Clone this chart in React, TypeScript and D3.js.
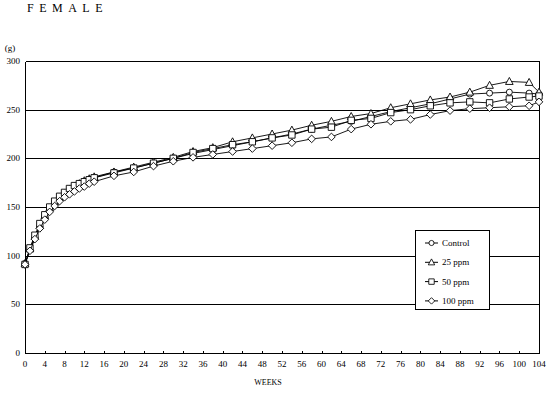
import React from 'react';
import * as d3 from 'd3';

// body weight of female rats, in grams, by week
const weeks = [0, 1, 2, 3, 4, 5, 6, 7, 8, 9, 10, 11, 12, 13, 14, 18, 22, 26, 30, 34, 38, 42, 46, 50, 54, 58, 62, 66, 70, 74, 78, 82, 86, 90, 94, 98, 102, 104];

const control = [92, 106, 119, 130, 140, 148, 154, 159, 163, 167, 170, 173, 176, 178, 180, 186, 190, 195, 200, 205, 209, 213, 217, 221, 225, 230, 234, 238, 243, 248, 252, 256, 261, 266, 267, 268, 267, 266];
const ppm25 = [92, 107, 120, 131, 141, 149, 155, 160, 164, 168, 171, 174, 177, 179, 181, 186, 191, 196, 201, 207, 211, 217, 221, 225, 229, 234, 238, 243, 246, 252, 256, 260, 263, 268, 275, 279, 278, 268];
const ppm50 = [91, 108, 121, 133, 142, 150, 156, 161, 165, 169, 172, 174, 176, 178, 180, 185, 190, 195, 200, 206, 210, 214, 217, 221, 224, 230, 232, 239, 241, 247, 250, 254, 257, 258, 257, 261, 263, 264];
const ppm100 = [91, 105, 117, 128, 137, 145, 151, 156, 160, 163, 166, 169, 171, 174, 176, 182, 186, 192, 197, 201, 204, 207, 210, 213, 216, 220, 222, 230, 235, 238, 240, 245, 249, 251, 252, 253, 254, 258];

const seriesNames = ['Control', '25 ppm', '50 ppm', '100 ppm'];
const seriesValues = [control, ppm25, ppm50, ppm100];
const seriesMarkers = ['circle', 'triangle', 'square', 'diamond'];

const xTicks = d3.range(0, 105, 4);
const yTicks = [0, 50, 100, 150, 200, 250, 300];

const W = 549;
const H = 394;
const margin = { left: 25, right: 10, top: 61, bottom: 41 };
const FONT = '"Liberation Serif", serif';

const markerPath = (kind: string) => {
  if (kind === 'circle') return 'M3,0A3,3 0 1,1 -3,0A3,3 0 1,1 3,0Z';
  if (kind === 'triangle') return 'M0,-4L3.8,3L-3.8,3Z';
  if (kind === 'square') return 'M-3.2,-3.2H3.2V3.2H-3.2Z';
  return 'M0,-3.8L3.8,0L0,3.8L-3.8,0Z';
};

// snap horizontal/vertical rules to the pixel grid
const crisp = (v: number) => Math.round(v) + 0.5;

export default function App() {
  const x = d3.scaleLinear().domain([0, 104]).range([margin.left, W - margin.right]);
  const y = d3.scaleLinear().domain([0, 300]).range([H - margin.bottom, margin.top]);

  const line = d3.line<number>()
    .x((_, i) => x(weeks[i]))
    .y(d => y(d));

  const legendX = 415;
  const legendY = 230;

  return (
    <svg width={W} height={H} style={{ position: 'absolute', left: 0, top: 0, background: '#fff' }}
      fontFamily={FONT}>
      <text x={27} y={12} fontSize={12} letterSpacing={5.5}>FEMALE</text>
      <text x={10} y={51} fontSize={9} textAnchor="middle">(g)</text>

      {/* gridlines + frame */}
      {yTicks.map(t => (
        <line key={t} x1={crisp(x(0))} x2={crisp(x(104))} y1={crisp(y(t))} y2={crisp(y(t))}
          stroke="#000" strokeWidth={1.3} shapeRendering="crispEdges" />
      ))}
      <line x1={crisp(x(0))} x2={crisp(x(0))} y1={crisp(y(0))} y2={crisp(y(300))} stroke="#000" strokeWidth={1.3} shapeRendering="crispEdges" />
      <line x1={crisp(x(104))} x2={crisp(x(104))} y1={crisp(y(0))} y2={crisp(y(300))} stroke="#000" strokeWidth={1.3} shapeRendering="crispEdges" />

      {yTicks.map(t => (
        <text key={t} x={20} y={y(t) + 3} fontSize={9} textAnchor="end">{t}</text>
      ))}
      {xTicks.map(t => (
        <g key={t}>
          <line x1={crisp(x(t))} x2={crisp(x(t))} y1={crisp(y(0))} y2={crisp(y(0)) - 3} stroke="#000" shapeRendering="crispEdges" />
          <text x={x(t)} y={y(0) + 14} fontSize={9} textAnchor="middle">{t}</text>
        </g>
      ))}
      <text x={268} y={385} fontSize={8} textAnchor="middle">WEEKS</text>

      {seriesValues.map((vals, si) => (
        <g key={si}>
          <path d={line(vals) || ''} fill="none" stroke="#000" strokeWidth={0.9} />
          {vals.map((v, i) => (
            <path key={i} d={markerPath(seriesMarkers[si])}
              transform={`translate(${x(weeks[i])},${y(v)})`}
              fill="#fff" stroke="#000" strokeWidth={0.9} />
          ))}
        </g>
      ))}

      {/* legend */}
      <rect x={crisp(legendX)} y={crisp(legendY)} width={74} height={79} fill="#fff" stroke="#000" strokeWidth={1.3} shapeRendering="crispEdges" />
      {seriesNames.map((name, i) => {
        const cy = legendY + 13 + i * 19.3;
        return (
          <g key={name}>
            <line x1={legendX + 10} x2={legendX + 23} y1={cy} y2={cy} stroke="#000" />
            <path d={markerPath(seriesMarkers[i])} transform={`translate(${legendX + 16.5},${cy}) scale(0.85)`}
              fill="#fff" stroke="#000" strokeWidth={1} />
            <text x={legendX + 27} y={cy + 3} fontSize={9}>{name}</text>
          </g>
        );
      })}
    </svg>
  );
}
